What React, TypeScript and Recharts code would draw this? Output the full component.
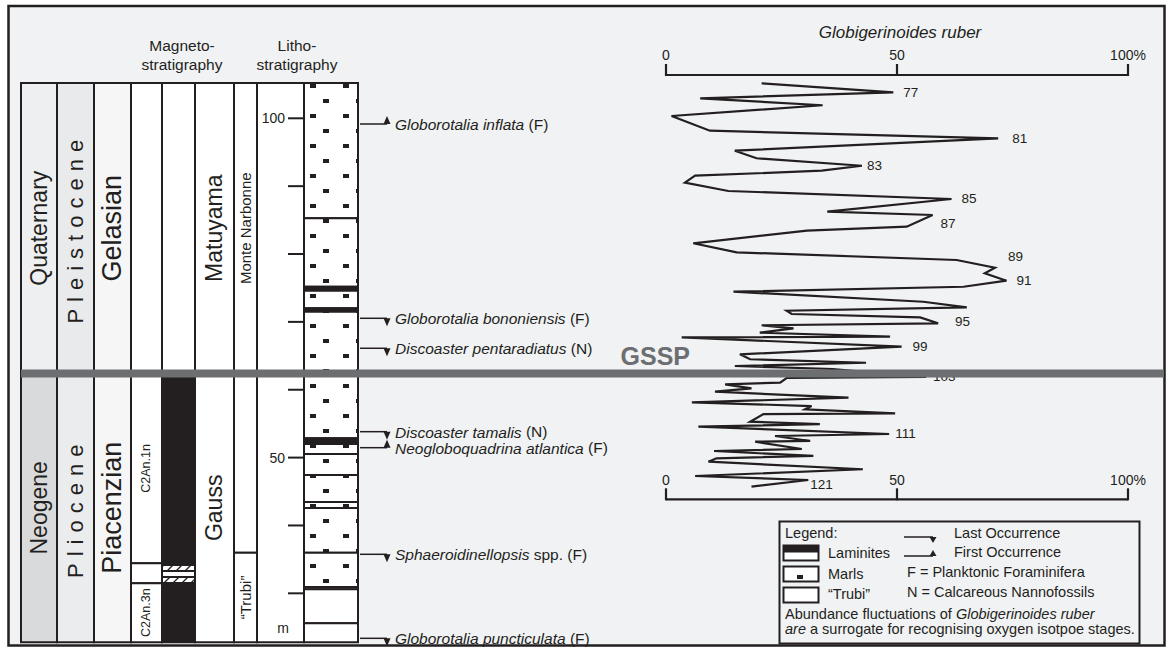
import React from 'react'
import {
    ComposedChart,
    Line,
    XAxis,
    YAxis,
    ReferenceArea,
    ReferenceLine,
    ReferenceDot,
} from 'recharts'

const W = 1171
const H = 648
const INK = '#231f20'
const GSSP_GREY = '#6d6e71'
const PAPER = '#f1f2f4'
const FONT = '"Liberation Sans", Arial, Helvetica, sans-serif'

// page geometry of the two scales (depth in m, abundance in %)
const Y_AT_100M = 118.3
const PX_PER_M = 6.786
const X_AT_0PCT = 666
const PX_PER_PCT = 4.62
const depthDomain: [number, number] = [100 - (H - Y_AT_100M) / PX_PER_M, 100 + Y_AT_100M / PX_PER_M]
const pctDomain: [number, number] = [-X_AT_0PCT / PX_PER_PCT, (W - X_AT_0PCT) / PX_PER_PCT]
const atY = (y: number) => 100 - (y - Y_AT_100M) / PX_PER_M

// ---------------- data ----------------
const SECTION_TOP = 105.2
const SECTION_BASE = 22.8
const GSSP = 62.4

const depthTicks = [100, 90, 80, 70, 60, 50, 40, 30]
const depthTickLabels = [100, 50]
const pctTicks = [0, 50, 100]

// Globigerinoides ruber abundance (%) against depth (m)
const ruberDepth = [
    105.16, 103.83, 102.95, 101.92, 100.34, 98.17, 97.05, 95.23, 94.11, 93.01,
    92.28, 91.54, 90.51, 89.29, 88.11, 86.24, 85.75, 84.03, 83.44, 81.58,
    80.25, 79.12, 77.98, 77.16, 76.07, 75.18, 74.45, 72.97, 72.15, 71.65,
    71.16, 70.67, 69.79, 69.5, 69.05, 68.41, 67.82, 67.73, 66.34, 65.22,
    64.49, 63.98, 63.5, 63.06, 61.88, 61.73, 61.04, 60.8, 60.21, 59.71,
    58.83, 58.15, 57.6, 57.12, 56.53, 56.42, 55.29, 54.94, 54.55, 53.48,
    53.18, 52.45, 52.34, 51.27, 50.97, 50.24, 49.9, 49.4, 48.28, 47.29,
    46.7, 45.71,
]
const ruberPercent = [
    20.7, 49.2, 7.4, 33.9, 1.2, 9.5, 71.9, 14.9, 19.6, 42.4,
    33.7, 6.3, 4.1, 13.5, 61.8, 34.9, 57.7, 52.1, 30.5, 5.9,
    15.3, 62.9, 71.2, 69.0, 73.7, 64.4, 14.6, 55.7, 65.1, 26.1,
    27.2, 55.0, 58.9, 20.7, 27.6, 20.3, 48.5, 3.4, 51.0, 16.0,
    18.2, 43.3, 14.9, 36.1, 56.3, 26.1, 24.7, 12.8, 18.5, 10.6,
    39.5, 5.6, 31.5, 30.1, 49.6, 21.1, 18.2, 33.3, 7.0, 48.3,
    23.6, 31.2, 19.3, 29.4, 10.4, 31.9, 10.9, 9.2, 42.6, 6.3,
    30.8, 18.5,
]
// oxygen isotope stages marked on the curve
const stageIndex = [1, 6, 9, 14, 16, 22, 24, 32, 38, 44, 59, 70]
const stageNumber = [77, 81, 83, 85, 87, 89, 91, 95, 99, 103, 111, 121]

const eras = [
    { name: 'Quaternary', top: SECTION_TOP, base: GSSP },
    { name: 'Neogene', top: GSSP, base: SECTION_BASE },
]
const epochs = [
    { name: 'Pleistocene', top: SECTION_TOP, base: GSSP },
    { name: 'Pliocene', top: GSSP, base: SECTION_BASE },
]
const stages = [
    { name: 'Gelasian', top: SECTION_TOP, base: GSSP },
    { name: 'Piacenzian', top: GSSP, base: SECTION_BASE },
]
const subchrons = [
    { name: '', top: SECTION_TOP, base: GSSP },
    { name: 'C2An.1n', top: GSSP, base: 34.42 },
    { name: '', top: 34.42, base: 31.48 },
    { name: 'C2An.3n', top: 31.48, base: SECTION_BASE },
]
const polarity = [
    { state: 'reversed', top: SECTION_TOP, base: GSSP },
    { state: 'normal', top: GSSP, base: 34.17 },
    { state: 'uncertain', top: 34.17, base: 33.29 },
    { state: 'reversed', top: 33.29, base: 32.41 },
    { state: 'uncertain', top: 32.41, base: 31.52 },
    { state: 'normal', top: 31.52, base: SECTION_BASE },
]
const chrons = [
    { name: 'Matuyama', top: SECTION_TOP, base: GSSP },
    { name: 'Gauss', top: GSSP, base: SECTION_BASE },
]
const formations = [
    { name: 'Monte Narbonne', top: SECTION_TOP, base: 35.99 },
    { name: '\u201CTrubi\u201D', top: 35.99, base: SECTION_BASE },
]
const lithology = [
    { rock: 'marls', top: SECTION_TOP, base: 85.26 },
    { rock: 'marls', top: 85.26, base: 75.18 },
    { rock: 'laminite', top: 75.18, base: 74.59 },
    { rock: 'marls', top: 74.59, base: 72.0 },
    { rock: 'laminite', top: 72.0, base: 71.5 },
    { rock: 'marls', top: 71.5, base: 52.84 },
    { rock: 'laminite', top: 52.84, base: 52.0 },
    { rock: 'marls', top: 52.0, base: 50.53 },
    { rock: 'marls', top: 50.53, base: 47.44 },
    { rock: 'marls', top: 47.44, base: 43.46 },
    { rock: 'marls', top: 43.46, base: 42.57 },
    { rock: 'marls', top: 42.57, base: 35.99 },
    { rock: 'marls', top: 35.99, base: 30.93 },
    { rock: 'trubi', top: 30.93, base: 30.59 },
    { rock: 'trubi', top: 30.59, base: 25.58 },
    { rock: 'trubi', top: 25.58, base: SECTION_BASE },
]
const bioEvents = [
    { taxon: 'Globorotalia inflata', extra: '', group: 'F', kind: 'FO', depth: 99.16 },
    { taxon: 'Globorotalia bononiensis', extra: '', group: 'F', kind: 'LO', depth: 70.53 },
    { taxon: 'Discoaster pentaradiatus', extra: '', group: 'N', kind: 'LO', depth: 66.11 },
    { taxon: 'Discoaster tamalis', extra: '', group: 'N', kind: 'LO', depth: 53.82 },
    { taxon: 'Neogloboquadrina atlantica', extra: '', group: 'F', kind: 'FO', depth: 51.46 },
    { taxon: 'Sphaeroidinellopsis', extra: ' spp.', group: 'F', kind: 'LO', depth: 35.75 },
    { taxon: 'Globorotalia puncticulata', extra: '', group: 'F', kind: 'LO', depth: 23.37 },
]

const ruberData = ruberDepth.map((depth, i) => {
    const k = stageIndex.indexOf(i)
    return { depth, pct: ruberPercent[i], stage: k >= 0 ? stageNumber[k] : null }
})

// ---------------- layout ----------------
const COL = {
    era: [21, 57],
    epoch: [57, 94],
    stage: [94, 131],
    subchron: [131, 162],
    polarity: [162, 195],
    chron: [195, 234],
    formation: [234, 257],
    scale: [257, 304],
    litho: [304, 358],
}
const UNIT_FILL: Record<string, string> = {
    Quaternary: '#eeeff1',
    Neogene: '#d9dadc',
    Pleistocene: '#e9eaec',
    Pliocene: '#ebecee',
    Gelasian: '#f6f6f7',
    Piacenzian: '#f6f6f7',
}
const LABEL_DEPTH: Record<string, number> = { 'Monte Narbonne': 83.8 }
const STAGE_NUDGE: Record<number, [number, number]> = {
    77: [10, 0], 81: [14, 0], 83: [5, 0], 85: [10, 0], 87: [8, 8], 89: [13, -11],
    91: [10, 0], 95: [17, -2], 99: [11, 0], 103: [7, 0], 111: [6, 0], 121: [2, 5],
}

const rotatedText = (text: string, size: number, spacing = 0) => (p: any) => (
    <text
        x={p.cx}
        y={p.cy}
        transform={`rotate(-90 ${p.cx} ${p.cy})`}
        textAnchor="middle"
        dominantBaseline="central"
        fontFamily={FONT}
        fontSize={size}
        letterSpacing={spacing}
        fill={INK}
    >
        {text}
    </text>
)

const plainText = (text: string, size: number, anchor = 'middle') => (p: any) => (
    <text x={p.cx} y={p.cy} textAnchor={anchor} dominantBaseline="central" fontFamily={FONT} fontSize={size} fill={INK}>
        {text}
    </text>
)

const eventShape = (ev: typeof bioEvents[number]) => (p: any) => {
    const x1 = p.cx + 27
    const tip = ev.kind === 'LO' ? p.cy + 8 : p.cy - 8
    return (
        <g>
            <line x1={p.cx} y1={p.cy} x2={x1} y2={p.cy} stroke={INK} strokeWidth={1.5} />
            <polygon points={`${x1 - 3.5},${p.cy} ${x1 + 3.5},${p.cy} ${x1},${tip}`} fill={INK} />
            <text x={p.cx + 35} y={p.cy} dominantBaseline="central" fontFamily={FONT} fontSize={15.5} fill={INK}>
                <tspan fontStyle="italic">{ev.taxon}</tspan>
                {`${ev.extra} (${ev.group})`}
            </text>
        </g>
    )
}

const renderStage = (p: any) => {
    const stage = p.payload && p.payload.stage
    if (!stage) return <g key={`st-${p.index}`} />
    const [dx, dy] = STAGE_NUDGE[stage] || [8, 0]
    return (
        <text
            key={`st-${p.index}`}
            x={p.cx + dx}
            y={p.cy + dy}
            dominantBaseline="central"
            fontFamily={FONT}
            fontSize={13.5}
            fill={INK}
        >
            {stage}
        </text>
    )
}

function unitAreas(units: { top: number; base: number }[], col: number[], fill: (u: any) => string, key: string) {
    return units.map((u, i) => (
        <ReferenceArea
            key={`${key}-${i}`}
            xAxisId="px"
            yAxisId="depth"
            x1={col[0]}
            x2={col[1]}
            y1={u.base}
            y2={u.top}
            fill={fill(u)}
            fillOpacity={1}
            stroke={INK}
            strokeWidth={2}
            zIndex={100}
        />
    ))
}

function unitLabels(units: { name: string; top: number; base: number }[], col: number[], size: number, spacing = 0) {
    return units
        .filter((u) => u.name)
        .map((u) => (
            <ReferenceDot
                key={`lbl-${u.name}`}
                xAxisId="px"
                yAxisId="depth"
                x={(col[0] + col[1]) / 2}
                y={LABEL_DEPTH[u.name] ?? (u.top + u.base) / 2}
                shape={rotatedText(u.name, size, spacing)}
                zIndex={600}
            />
        ))
}

function Legend() {
    return (
        <g fontFamily={FONT} fontSize={14.5} fill={INK}>
            <rect x={779.5} y={521.5} width={360} height={122} fill={PAPER} stroke={INK} strokeWidth={2} />
            <text x={785} y={538}>Legend:</text>
            <line x1={904} y1={537} x2={933} y2={537} stroke={INK} strokeWidth={1.5} />
            <polygon points="929.5,537 936.5,537 933,543" fill={INK} />
            <text x={954} y={538}>Last Occurrence</text>

            <rect x={783.5} y={545.5} width={35} height={15} fill="#fff" stroke={INK} strokeWidth={2} />
            <rect x={783.5} y={545.5} width={35} height={7} fill={INK} />
            <text x={828} y={558}>Laminites</text>
            <line x1={904} y1={556} x2={933} y2={556} stroke={INK} strokeWidth={1.5} />
            <polygon points="929.5,556 936.5,556 933,550" fill={INK} />
            <text x={954} y={557}>First Occurrence</text>

            <rect x={783.5} y={566.5} width={35} height={15} fill="#fff" stroke={INK} strokeWidth={2} />
            <rect x={797} y={575} width={6} height={4} fill={INK} />
            <text x={828} y={579}>Marls</text>
            <text x={907} y={577}>F = Planktonic Foraminifera</text>

            <rect x={783.5} y={587.5} width={35} height={15} fill="#fff" stroke={INK} strokeWidth={2} />
            <text x={828} y={599}>{'\u201CTrubi\u201D'}</text>
            <text x={907} y={597}>N = Calcareous Nannofossils</text>

            <text x={785} y={619}>
                Abundance fluctuations of <tspan fontStyle="italic">Globigerinoides ruber</tspan>
            </text>
            <text x={785} y={634}>
                <tspan fontStyle="italic">are</tspan> a surrogate for recognising oxygen isotpoe stages.
            </text>
        </g>
    )
}

export default function App() {
    const topAxis = atY(75)
    const bottomAxis = atY(499.3)
    const tickLen = 11 / PX_PER_M

    return (
        <div style={{ position: 'absolute', left: 0, top: 0, width: W, height: H, background: '#fff' }}>
            <svg width={W} height={H} style={{ position: 'absolute', left: 0, top: 0 }}>
                <defs>
                    <pattern id="marls" patternUnits="userSpaceOnUse" x={304} y={83} width={33} height={30}>
                        <rect width={33} height={30} fill="#fff" />
                        <rect x={6} y={1} width={6} height={4} fill={INK} />
                        <rect x={19} y={16} width={6} height={4} fill={INK} />
                    </pattern>
                    <pattern id="hatch" patternUnits="userSpaceOnUse" width={9} height={9}>
                        <rect width={9} height={9} fill="#fff" />
                        <path d="M0,9 L9,0 M-1,1 L1,-1 M8,10 L10,8" stroke={INK} strokeWidth={1.3} />
                    </pattern>
                </defs>
                <rect x={8.5} y={6} width={1156} height={639.5} fill={PAPER} stroke={INK} strokeWidth={2.5} />
            </svg>

            <div style={{ position: 'absolute', left: 0, top: 0 }}>
                <ComposedChart
                    width={W}
                    height={H}
                    layout="vertical"
                    data={ruberData}
                    margin={{ top: 0, right: 0, bottom: 0, left: 0 }}
                >
                    <XAxis xAxisId="px" type="number" domain={[0, W]} allowDataOverflow hide />
                    <XAxis xAxisId="pct" type="number" domain={pctDomain} allowDataOverflow hide />
                    <YAxis
                        yAxisId="depth"
                        type="number"
                        dataKey="depth"
                        domain={depthDomain}
                        allowDataOverflow
                        reversed
                        hide
                    />

                    {unitAreas(eras, COL.era, (u) => UNIT_FILL[u.name], 'era')}
                    {unitAreas(epochs, COL.epoch, (u) => UNIT_FILL[u.name], 'epoch')}
                    {unitAreas(stages, COL.stage, (u) => UNIT_FILL[u.name], 'stage')}
                    {unitAreas(subchrons, COL.subchron, () => '#fff', 'sub')}
                    {unitAreas(
                        polarity,
                        COL.polarity,
                        (u) => (u.state === 'normal' ? INK : u.state === 'uncertain' ? 'url(#hatch)' : '#fff'),
                        'pol'
                    )}
                    {unitAreas(chrons, COL.chron, () => '#fff', 'chron')}
                    {unitAreas(formations, COL.formation, () => '#fff', 'fm')}
                    {unitAreas([{ top: SECTION_TOP, base: SECTION_BASE }], COL.scale, () => '#fff', 'scale')}
                    {unitAreas(
                        lithology,
                        COL.litho,
                        (u) => (u.rock === 'marls' ? 'url(#marls)' : u.rock === 'laminite' ? INK : '#fff'),
                        'lith'
                    )}

                    {depthTicks.map((d) => (
                        <ReferenceLine
                            key={`dt-${d}`}
                            xAxisId="px"
                            yAxisId="depth"
                            segment={[{ x: 288, y: d }, { x: COL.scale[1], y: d }]}
                            stroke={INK}
                            strokeWidth={2}
                            zIndex={300}
                        />
                    ))}

                    {[topAxis, bottomAxis].map((ya) => (
                        <ReferenceLine
                            key={`ax-${ya}`}
                            xAxisId="pct"
                            yAxisId="depth"
                            segment={[{ x: 0, y: ya }, { x: 100, y: ya }]}
                            stroke={INK}
                            strokeWidth={2.2}
                            zIndex={300}
                        />
                    ))}
                    {[topAxis, bottomAxis].flatMap((ya) =>
                        pctTicks.map((t) => (
                            <ReferenceLine
                                key={`tk-${ya}-${t}`}
                                xAxisId="pct"
                                yAxisId="depth"
                                segment={[{ x: t, y: ya - 0.15 }, { x: t, y: ya + tickLen }]}
                                stroke={INK}
                                strokeWidth={2.2}
                                zIndex={300}
                            />
                        ))
                    )}

                    <Line
                        xAxisId="pct"
                        yAxisId="depth"
                        dataKey="pct"
                        type="linear"
                        stroke={INK}
                        strokeWidth={2.2}
                        strokeLinejoin="miter"
                        dot={renderStage}
                        activeDot={false}
                        isAnimationActive={false}
                    />

                    {unitLabels(eras, COL.era, 23)}
                    {unitLabels(epochs, COL.epoch, 22, 7)}
                    {unitLabels(stages, COL.stage, 27)}
                    {unitLabels(subchrons, COL.subchron, 12.5)}
                    {unitLabels(chrons, COL.chron, 23)}
                    {unitLabels(formations, COL.formation, 15)}

                    {depthTickLabels.map((d) => (
                        <ReferenceDot
                            key={`dl-${d}`}
                            xAxisId="px"
                            yAxisId="depth"
                            x={285}
                            y={d}
                            shape={plainText(String(d), 14, 'end')}
                            zIndex={600}
                        />
                    ))}
                    {[atY(55), atY(480)].flatMap((ya) =>
                        pctTicks.map((t) => (
                            <ReferenceDot
                                key={`pl-${ya}-${t}`}
                                xAxisId="pct"
                                yAxisId="depth"
                                x={t}
                                y={ya}
                                shape={plainText(t === 100 ? '100%' : String(t), 14)}
                                zIndex={600}
                            />
                        ))
                    )}

                    {bioEvents.map((ev) => (
                        <ReferenceDot
                            key={`ev-${ev.taxon}`}
                            xAxisId="px"
                            yAxisId="depth"
                            x={360}
                            y={ev.depth}
                            shape={eventShape(ev)}
                            zIndex={600}
                        />
                    ))}

                    <ReferenceLine
                        xAxisId="px"
                        yAxisId="depth"
                        segment={[{ x: COL.era[0], y: GSSP }, { x: 1164, y: GSSP }]}
                        stroke={GSSP_GREY}
                        strokeWidth={8}
                        zIndex={2500}
                    />
                </ComposedChart>
            </div>

            <svg width={W} height={H} style={{ position: 'absolute', left: 0, top: 0, pointerEvents: 'none' }}>
                <g fontFamily={FONT} fill={INK} textAnchor="middle" fontSize={15.5}>
                    <text x={182} y={51}>Magneto-</text>
                    <text x={182} y={70}>stratigraphy</text>
                    <text x={297} y={51}>Litho-</text>
                    <text x={297} y={70}>stratigraphy</text>
                    <text x={900} y={38} fontSize={17} fontStyle="italic">
                        Globigerinoides ruber
                    </text>
                    <text x={283} y={633} fontSize={14}>
                        m
                    </text>
                </g>
                <text x={690} y={365} textAnchor="end" fontFamily={FONT} fontWeight="bold" fontSize={25} fill={GSSP_GREY}>
                    GSSP
                </text>
                <Legend />
            </svg>
        </div>
    )
}
